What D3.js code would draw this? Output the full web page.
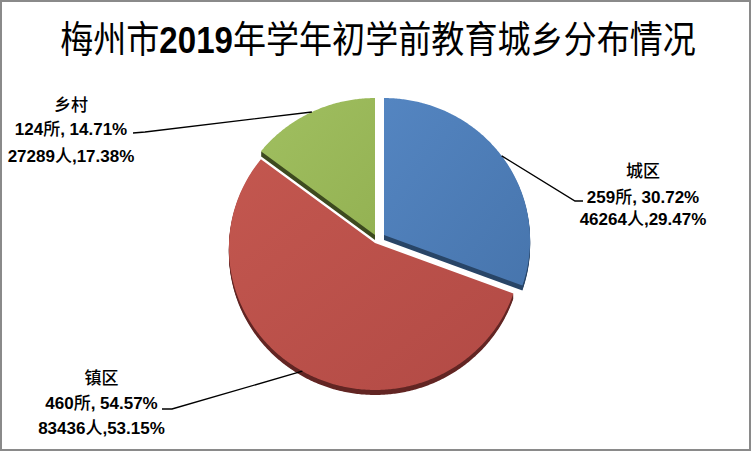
<!DOCTYPE html>
<html><head><meta charset="utf-8">
<script src="https://cdn.jsdelivr.net/npm/d3@7"></script>
<style>body{margin:0;background:#fff}svg{display:block}</style>
</head><body>
<svg id="c" width="752" height="452"></svg>
<script>
// ---- data ----
const titleParts = ["梅州市", "2019", "年学年初学前教育城乡分布情况"];
const categories = ["城区", "镇区", "乡村"];
const schoolCounts = [259, 460, 124];
const schoolPct = ["30.72%", "54.57%", "14.71%"];
const studentCounts = [46264, 83436, 27289];
const studentPct = ["29.47%", "53.15%", "17.38%"];

// ---- style / layout ----
const W = 752, H = 452;
const faceColors = [["#5485C1", "#4775AD"], ["#C3574F", "#B24A45"], ["#A0BF60", "#94B253"]];
const sideColors = ["#284567", "#622523", "#3D4A1F"];
const center = [375, 243];
const explode = [[9, -8], [0, 0], [0, -8]];
const F = 146, G = 141.8, K = 0.0352, depth = 5;
const labelLayout = [
  {cx: 643, ys: [177, 203, 225], leader: [[583, 201], [575, 201]]},
  {cx: 101.5, ys: [384, 409, 434], leader: [[162, 409], [172, 409]]},
  {cx: 71, ys: [111, 135, 162], leader: [[133, 133], [145, 132]]}
];

const svg = d3.select("#c");
svg.append("rect").attr("x", 1).attr("y", 1).attr("width", W - 3).attr("height", H - 3)
  .attr("fill", "#fff").attr("stroke", "#8a8a8a").attr("stroke-width", 2);

// title (horizontally condensed like the reference)
const title = svg.append("g").attr("transform", "translate(378,53) scale(0.894,1)")
  .append("text").attr("x", 0).attr("y", 0).attr("text-anchor", "middle")
  .style("font-family", "'Noto Sans CJK SC', sans-serif").style("font-size", "37px").attr("fill", "#000");
titleParts.forEach((p, i) => title.append("tspan").text(p)
  .style("font-weight", i === 1 ? "bold" : "normal")
  .style("font-family", i === 1 ? "'Liberation Sans', sans-serif" : null));

// gradients
const defs = svg.append("defs");
faceColors.forEach((c, i) => {
  const g = defs.append("linearGradient").attr("id", "g" + i)
    .attr("x1", 0).attr("y1", 0).attr("x2", 1).attr("y2", 1);
  g.append("stop").attr("offset", "0%").attr("stop-color", c[0]);
  g.append("stop").attr("offset", "100%").attr("stop-color", c[1]);
});

// pie with perspective projection
const pie = d3.pie().sort(null).value(d => d).startAngle(0).endAngle(2 * Math.PI);
const arcs = pie(schoolCounts);
const proj = a => [F * Math.sin(a) / (1 + K * Math.cos(a)), -G * Math.cos(a) / (1 + K * Math.cos(a))];
const line = d3.line().curve(d3.curveLinearClosed);

function slicePts(d, dy) {
  const pts = [[0, dy]];
  const n = Math.max(10, Math.ceil((d.endAngle - d.startAngle) / 0.01));
  for (let k = 0; k <= n; k++) {
    const a = d.startAngle + (d.endAngle - d.startAngle) * k / n;
    const p = proj(a);
    pts.push([p[0], p[1] + dy]);
  }
  return pts;
}

const gSlices = svg.append("g");
arcs.forEach((d, i) => {
  const g = gSlices.append("g")
    .attr("transform", `translate(${center[0] + explode[i][0]},${center[1] + explode[i][1]})`);
  for (let t = 1; t <= depth; t++) {
    g.append("path").attr("d", line(slicePts(d, t))).attr("fill", sideColors[i]);
  }
  g.append("path").attr("d", line(slicePts(d, 0))).attr("fill", `url(#g${i})`);
});

// leader lines & labels
arcs.forEach((d, i) => {
  const mid = (d.startAngle + d.endAngle) / 2;
  const p = proj(mid);
  const anchor = [center[0] + explode[i][0] + p[0], center[1] + explode[i][1] + p[1]];
  const L = labelLayout[i];
  svg.append("path").attr("d", d3.line()([L.leader[0], L.leader[1], anchor]))
    .attr("fill", "none").attr("stroke", "#000").attr("stroke-width", 1.4);

  const lines = [
    [[categories[i], false]],
    [[String(schoolCounts[i]), true], ["所", false], [", " + schoolPct[i], true]],
    [[String(studentCounts[i]), true], ["人", false], ["," + studentPct[i], true]]
  ];
  lines.forEach((parts, j) => {
    const tx = svg.append("text").attr("x", L.cx).attr("y", L.ys[j]).attr("text-anchor", "middle")
      .style("font-size", "17px").attr("fill", "#000");
    parts.forEach(([s, latin]) => tx.append("tspan").text(s)
      .style("font-family", latin ? "'Liberation Sans', sans-serif" : "'Noto Sans CJK SC', sans-serif")
      .style("font-weight", latin ? "bold" : "500"));
  });
});
</script>
</body></html>
